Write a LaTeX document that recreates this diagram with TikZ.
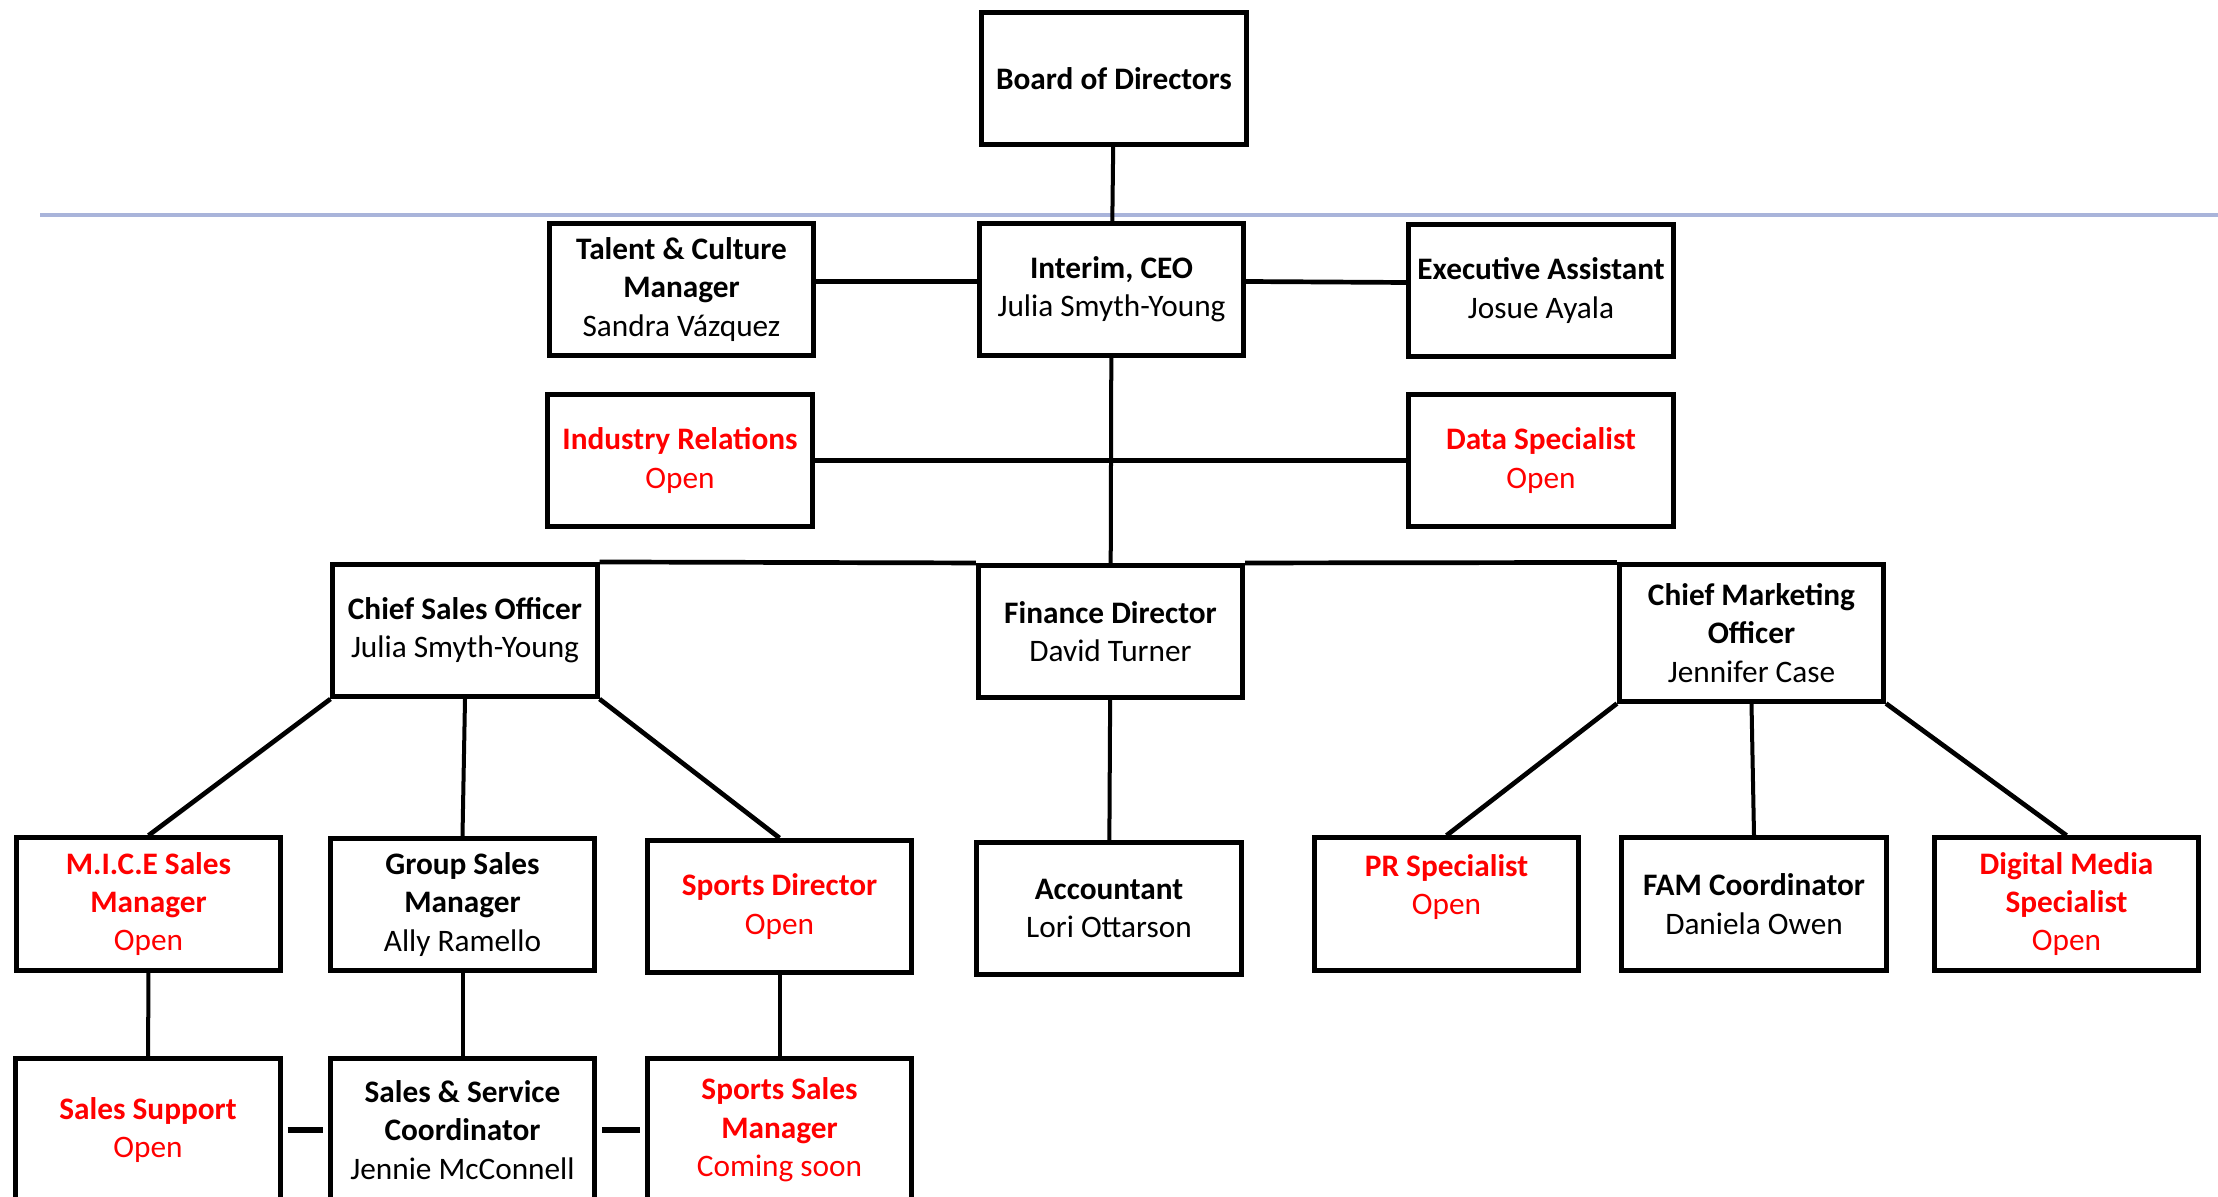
\documentclass[tikz,border=0pt]{standalone}
\usepackage{fontspec}
\setmainfont{Carlito}
\usepackage{tikz}
\usetikzlibrary{positioning}
\definecolor{ruleblue}{RGB}{169,180,218}
\definecolor{vacant}{RGB}{255,0,0}

\begin{document}
\begin{tikzpicture}[x=0.01cm, y=-0.01cm,
    post/.style={draw=black, fill=white, line width=0.05cm,
      minimum width=2.64cm, minimum height=1.32cm, inner sep=1pt,
      align=center, font=\fontsize{8.9}{10.9}\selectfont},
    openpost/.style={post, text=vacant},
    link/.style={line width=0.047cm},
    thinlink/.style={line width=0.04cm},
    stub/.style={line width=0.06cm, shorten <=0.05cm, shorten >=0.05cm}]
  \useasboundingbox (0,0) rectangle (2218,1197);
  % board rule
  \draw[ruleblue, line width=0.04cm] (40,215) -- (2218,215);
  % top levels
  \node[post] (board) at (1114,78.5) {\textbf{Board of Directors}};
  \node[post] (talent) at (681.5,289.5) {\textbf{Talent \& Culture}\\\textbf{Manager}\\Sandra Vázquez};
  \node[post] (ceo) at (1111.5,289.5) {\textbf{Interim, CEO}\\Julia Smyth-Young};
  \node[post] (assist) at (1541,290.5) {\textbf{Executive Assistant}\\Josue Ayala};
  \node[openpost] (industry) at (680,460.5) {\textbf{Industry Relations}\\Open};
  \node[openpost] (data) at (1541,460.5) {\textbf{Data Specialist}\\Open};
  % chiefs
  \node[post] (cso) at (465,630.5) {\textbf{Chief Sales Officer}\\Julia Smyth-Young};
  \node[post] (finance) at (1110.5,631.5) {\textbf{Finance Director}\\David Turner};
  \node[post, minimum height=1.36cm] (cmo) at (1751.5,633) {\textbf{Chief Marketing}\\\textbf{Officer}\\Jennifer Case};
  % fourth row
  \node[openpost] (mice) at (148.5,904) {\textbf{M.I.C.E Sales}\\\textbf{Manager}\\Open};
  \node[post] (group) at (462.5,904.5) {\textbf{Group Sales}\\\textbf{Manager}\\Ally Ramello};
  \node[openpost] (sportsdir) at (779.5,906.5) {\textbf{Sports Director}\\Open};
  \node[post] (accountant) at (1109,908.5) {\textbf{Accountant}\\Lori Ottarson};
  \node[openpost] (pr) at (1446.5,904) {\textbf{PR Specialist}\\Open\\\mbox{}};
  \node[post] (fam) at (1754,904) {\textbf{FAM Coordinator}\\Daniela Owen};
  \node[openpost] (digital) at (2066.5,904) {\textbf{Digital Media}\\\textbf{Specialist}\\Open};
  % bottom row
  \node[openpost, minimum height=1.42cm] (support) at (148,1130) {\textbf{Sales Support}\\Open};
  \node[post, minimum height=1.42cm] (service) at (462.5,1130) {\textbf{Sales \& Service}\\\textbf{Coordinator}\\Jennie McConnell};
  \node[openpost, minimum height=1.42cm] (sportssales) at (779.5,1130) {\textbf{Sports Sales}\\\textbf{Manager}\\Coming soon};
  % connectors
  \draw[thinlink] (board) -- (ceo);
  \draw[link] ([yshift=0.08cm]talent.east) -- ([yshift=0.08cm]ceo.west);
  \draw[link] ([yshift=0.08cm]ceo.east) -- ([yshift=0.08cm]assist.west);
  \draw[thinlink] (ceo) -- (finance);
  \draw[link] (industry.east) -- (industry.east -| ceo.south);
  \draw[link] (data.west) -- (data.west -| ceo.south);
  \draw[link] (cso.north east) -- (finance.north west);
  \draw[link] (finance.north east) -- (cmo.north west);
  \draw[link] (cso.south west) -- (mice.north);
  \draw[thinlink] (cso.south) -- (group.north);
  \draw[link] (cso.south east) -- (sportsdir.north);
  \draw[thinlink] (finance) -- (accountant);
  \draw[link] (cmo.south west) -- (pr.north);
  \draw[thinlink] (cmo.south) -- (fam.north);
  \draw[link] (cmo.south east) -- (digital.north);
  \draw[thinlink] (mice) -- (support);
  \draw[thinlink] (group) -- (service);
  \draw[thinlink] (sportsdir) -- (sportssales);
  \draw[stub] (support) -- (service);
  \draw[stub] (service) -- (sportssales);
\end{tikzpicture}
\end{document}
